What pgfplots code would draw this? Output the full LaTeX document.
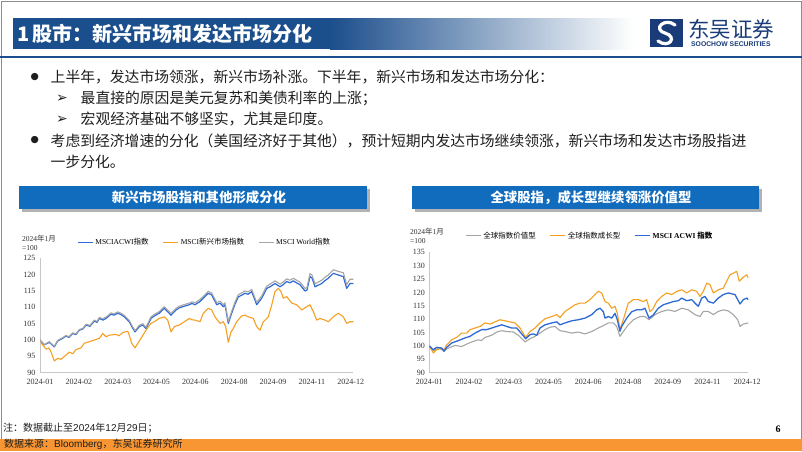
\documentclass[border=0pt]{standalone}
\usepackage{pgfplots}
\pgfplotsset{compat=1.18}
\usepackage{fontspec}
\setmainfont{Liberation Serif}
\newfontfamily\cjk{Noto Sans CJK SC}
\newfontfamily\dejavu{DejaVu Sans}
\newfontfamily\arial{Liberation Sans}
\definecolor{hdrblue}{RGB}{27,78,140}
\definecolor{boxblue}{RGB}{18,108,190}
\definecolor{lnblue}{RGB}{45,105,215}
\definecolor{lnorange}{RGB}{245,160,35}
\definecolor{lngray}{RGB}{165,165,165}
\definecolor{ftorange}{RGB}{247,150,50}
\definecolor{navy}{RGB}{25,60,120}
\definecolor{txt}{RGB}{30,30,30}
\pgfplotsset{
 slidechart/.style={
  scale only axis, anchor=south west,
  axis x line*=bottom, axis y line*=left,
  axis line style={draw=black!22, line width=0.6pt},
  major tick length=0pt,
  tick label style={font=\fontsize{8}{9}\selectfont, text=black!80},
  x tick label style={yshift=-2.5pt},
  y tick label style={xshift=-1pt},
  /pgf/number format/assume math mode=true,
  ytick distance=5,
  legend style={draw=none, fill=none, legend columns=3, font=\fontsize{7.5}{8}\selectfont, anchor=west, inner sep=0pt, /tikz/every even column/.append style={column sep=12pt}},
  legend image code/.code={\draw[##1] (0pt,0pt) -- (15pt,0pt);},
  every axis plot/.append style={line join=round, mark=none},
 }
}
\begin{document}
\begin{tikzpicture}
\begin{scope}[x=1pt,y=-1pt]
\useasboundingbox (0,0) rectangle (802,451);
\fill[white] (0,0) rectangle (802,451);
\draw[black!45, line width=0.8pt] (1,1) rectangle (801,450);
% header
\fill[hdrblue] (13,18.3) rectangle (330,49.3);
\shade[left color=hdrblue, right color=white] (330,18.3) rectangle (634,49.3);
\node[anchor=west, text=white, inner sep=0pt] at (17,33.8) {\fontsize{20}{22}\selectfont\cjk\bfseries 1\,股市：新兴市场和发达市场分化};
\fill[hdrblue] (0,55.6) rectangle (802,57.8);
% logo
\fill[navy] (650,19) rectangle (683,47);
\draw[white, line width=3.2pt, line cap=round] (675,25) .. controls (665,17) and (652,29) .. (665,33) .. controls (678,37) and (669,49) .. (658,41);
\node[anchor=west, inner sep=0pt, text=navy] at (688,29.5) {\fontsize{21.5}{22}\selectfont\cjk 东吴证券};
\node[anchor=west, inner sep=0pt, text=navy] at (691,44.5) {\fontsize{6.8}{7}\selectfont\arial\bfseries SOOCHOW SECURITIES};
% bullets
\begin{scope}[every node/.style={anchor=west, inner sep=0pt, text=txt}]
\node at (30.5,77.5) {\fontsize{9.5}{9.5}\selectfont\dejavu ●};
\node at (50.5,77.5) {\fontsize{14.8}{16}\selectfont\cjk 上半年，发达市场领涨，新兴市场补涨。下半年，新兴市场和发达市场分化：};
\node at (56,98.5) {\fontsize{14}{14}\selectfont\dejavu ➢};
\node at (80.5,98.5) {\fontsize{14.8}{16}\selectfont\cjk 最直接的原因是美元复苏和美债利率的上涨；};
\node at (56,119.5) {\fontsize{14}{14}\selectfont\dejavu ➢};
\node at (80.5,119.5) {\fontsize{14.8}{16}\selectfont\cjk 宏观经济基础不够坚实，尤其是印度。};
\node at (30.5,140.5) {\fontsize{9.5}{9.5}\selectfont\dejavu ●};
\node at (50.5,140.5) {\fontsize{14.8}{16}\selectfont\cjk 考虑到经济增速的分化（美国经济好于其他），预计短期内发达市场继续领涨，新兴市场和发达市场股指进};
\node at (50.5,162) {\fontsize{14.8}{16}\selectfont\cjk 一步分化。};
\end{scope}
% chart title boxes
\fill[black!30] (21.5,188.5) rectangle (369.5,211.5);
\fill[boxblue] (19,186) rectangle (367,209);
\node[text=white, inner sep=0pt] at (199,197.5) {\fontsize{13.4}{14}\selectfont\cjk\bfseries 新兴市场股指和其他形成分化};
\fill[black!30] (414.5,188.5) rectangle (761.5,211.5);
\fill[boxblue] (412,186) rectangle (759,209);
\node[text=white, inner sep=0pt] at (591,197.5) {\fontsize{13.4}{14}\selectfont\cjk\bfseries 全球股指，成长型继续领涨价值型};
% y unit labels
\begin{scope}[every node/.style={anchor=west, inner sep=0pt, text=black!80, font=\fontsize{7.5}{8}\selectfont}]
\node at (22,239) {2024{\cjk 年}1{\cjk 月}};
\node at (22,247.7) {=100};
\node at (410,232) {2024{\cjk 年}1{\cjk 月}};
\node at (410,241) {=100};
\end{scope}
% footer
\node[anchor=west, inner sep=0pt, text=txt] at (3,428.5) {\fontsize{10}{11}\selectfont\cjk 注：数据截止至{\arial 2024}年{\arial 12}月{\arial 29}日；};
\node[anchor=center, inner sep=0pt, text=black] at (778,429.5) {\fontsize{10}{11}\selectfont\bfseries 6};
\fill[ftorange] (0,438.5) rectangle (802,451);
\node[anchor=west, inner sep=0pt, text=txt] at (4,444.5) {\fontsize{10}{11}\selectfont\cjk 数据来源：{\arial Bloomberg}，东吴证券研究所};
\end{scope}

% ---------- left chart ----------
\begin{axis}[slidechart,
  at={(40pt,-372.7pt)}, width=313.3pt, height=114.4pt,
  xmin=0, xmax=313.3, ymin=90, ymax=125,
  xtick={0,38.84,77.68,116.51,155.35,194.19,233.03,271.87,310.7},
  xticklabels={2024-01,2024-02,2024-03,2024-05,2024-06,2024-08,2024-09,2024-11,2024-12},
  legend style={at={(0.118,1.14)}},
]
\addplot[lnblue, line width=1.2pt] coordinates {
(0,100.0)(4.3,98.5)(9.3,99.3)(14.3,97.9)(17.7,99.7)(22,100.4)(26,101.2)(29,100.8)(32.7,102.0)(36,101.7)(39.3,103.0)(43,103.4)(46,104.6)(50,104.2)(54.3,105.8)(57,105.4)(59.3,106.6)(63,106.1)(66,106.6)(71,107.9)(74,107.6)(77.7,108.2)(81,107.8)(84.3,107.1)(89.3,105.6)(92,104.0)(95,102.5)(99.3,104.1)(102.7,104.6)(106,103.5)(111,106.6)(115,107.5)(119.3,108.2)(124.3,109.7)(131,107.6)(136,109.2)(139,109.8)(142.7,110.2)(146,110.5)(149.3,110.8)(152,111.2)(155,110.8)(160,111.8)(164,113.0)(168.3,114.3)(171.7,113.8)(176.7,110.8)(180,111.3)(183.3,110.2)(185,110.8)(188.3,105.1)(191.7,108.2)(195,111.0)(198.3,113.2)(201,113.6)(205,114.3)(208,114.0)(211.7,114.8)(216.7,110.8)(221.7,112.8)(226.7,115.8)(230,116.3)(235,117.3)(240,116.3)(243,116.9)(246.7,117.9)(250,117.5)(253.3,118.1)(256,117.6)(260,116.9)(265,115.0)(267,115.3)(270,119.4)(272,119.0)(275,116.3)(281.7,117.3)(285,118.2)(288.3,118.9)(293.3,120.4)(298.3,119.9)(303.3,119.4)(306.7,115.8)(310,117.3)(313.3,117.3)
};
\addlegendentry{MSCIACWI{\cjk 指数}}
\addplot[lnorange, line width=1.1pt] coordinates {
(0,100.0)(1.5,99.0)(6,97.2)(9,97.6)(11,96.4)(14.3,93.6)(17.7,94.4)(21,94.1)(26,95.4)(29.3,96.3)(32.7,95.8)(36,97.1)(41,97.6)(44.3,99.0)(49.3,99.5)(54.3,100.0)(59.3,100.5)(62.7,102.0)(66,101.0)(69.3,101.5)(76,101.7)(79,101.3)(82.7,102.3)(87.7,102.7)(89.3,101.5)(91.7,99.0)(95,97.6)(99.3,99.7)(106,103.0)(111,105.1)(114.3,105.6)(119.3,106.6)(124.3,107.1)(127.7,106.1)(131,102.5)(134.3,104.1)(139.3,104.6)(144.3,105.6)(149.3,106.6)(152,106.2)(155,106.1)(160,105.6)(163.3,108.2)(168.3,109.7)(171.7,109.2)(175,107.1)(180,105.1)(183.3,105.6)(185.7,104.1)(188.3,99.3)(191,102.5)(193.3,103.5)(196.7,105.6)(201.7,107.4)(205,107.6)(208.3,107.1)(213.3,106.6)(216.7,104.1)(220,103.0)(223.3,105.6)(228.3,107.1)(231.7,110.7)(235,114.8)(238.3,115.8)(241,114.8)(243.3,112.8)(246.7,113.3)(251.7,111.3)(256.7,110.8)(261.7,109.2)(266.7,110.2)(270,110.8)(273.3,108.7)(276.7,106.1)(280,106.6)(285,106.1)(288.3,105.6)(293.3,107.1)(298.3,108.2)(303.3,107.1)(306.7,105.1)(310,105.6)(313.3,105.6)
};
\addlegendentry{MSCI{\cjk 新兴市场指数}}
\addplot[lngray, line width=1.1pt] coordinates {
(0,100.0)(4.3,98.6)(9.3,99.5)(14.3,98.1)(17.7,99.9)(22,100.6)(26,101.4)(29,101.0)(32.7,102.2)(36,101.9)(39.3,103.2)(43,103.6)(46,104.8)(50,104.5)(54.3,106.1)(57,105.7)(59.3,106.9)(63,106.5)(66,107.0)(71,108.3)(74,108.0)(77.7,108.6)(81,108.2)(84.3,107.5)(89.3,106.0)(92,104.4)(95,102.9)(99.3,104.5)(102.7,105.0)(106,103.9)(111,107.1)(115,108.0)(119.3,108.7)(124.3,110.2)(131,108.1)(136,109.7)(139,110.3)(142.7,110.7)(146,111.0)(149.3,111.3)(152,111.7)(155,111.4)(160,112.4)(164,113.6)(168.3,114.9)(171.7,114.4)(176.7,111.4)(180,111.9)(183.3,110.8)(185,111.4)(188.3,105.7)(191.7,108.8)(195,111.6)(198.3,113.9)(201,114.3)(205,115.0)(208,114.7)(211.7,115.5)(216.7,111.5)(221.7,113.5)(226.7,116.5)(230,117.1)(235,118.1)(240,117.1)(243,117.7)(246.7,118.7)(250,118.3)(253.3,118.9)(256,118.4)(260,117.7)(265,115.8)(267,116.1)(270,120.3)(272,119.9)(275,117.2)(281.7,118.3)(285,119.2)(288.3,119.9)(293.3,121.5)(298.3,121.0)(303.3,120.6)(306.7,117.0)(310,118.6)(313.3,118.6)
};
\addlegendentry{MSCI World{\cjk 指数}}
\end{axis}

% ---------- right chart ----------
\begin{axis}[slidechart,
  at={(429.3pt,-372.7pt)}, width=319pt, height=120.4pt,
  xmin=0, xmax=319, ymin=90, ymax=135,
  xtick={0,39.75,79.5,119.25,159,198.75,238.5,278.25,318},
  xticklabels={2024-01,2024-02,2024-03,2024-05,2024-06,2024-08,2024-09,2024-11,2024-12},
  legend style={at={(0.112,1.138)}},
]
\addplot[lngray, line width=1.1pt] coordinates {
(0,100.0)(4,98.2)(9,99.2)(14.7,98.2)(19,99.2)(25.7,100.2)(32.4,99.8)(37.4,100.7)(42.4,101.5)(49,102.3)(52,102.0)(55.7,103.2)(62.4,104.0)(67.4,105.2)(72.4,105.7)(77.4,105.4)(84,105.2)(89,104.0)(95.7,101.5)(100.7,102.7)(105.7,103.6)(110.7,104.8)(115.7,106.1)(120.7,107.0)(125.7,107.3)(130.7,105.7)(135.7,105.4)(142.4,104.8)(149,105.2)(155.7,104.5)(162.4,105.4)(169,106.7)(174,107.6)(179,108.6)(184,108.6)(187.4,107.3)(190.7,103.6)(194,105.4)(199,107.9)(204,109.8)(210.7,111.0)(215.7,111.0)(219.7,109.8)(225.7,111.7)(232.4,112.9)(239,113.5)(245.7,112.9)(252.4,114.1)(259,113.5)(265.7,111.7)(270.7,111.0)(274,112.9)(279,112.9)(284,111.7)(289,112.9)(294,113.5)(299,113.1)(304,111.7)(308.4,109.8)(310.7,107.3)(314,108.2)(319,108.6)
};
\addlegendentry{\cjk 全球指数价值型}
\addplot[lnorange, line width=1.1pt] coordinates {
(0,100.0)(4,97.4)(7.4,98.6)(12.4,99.2)(14.7,98.6)(17.4,100.4)(22.4,102.3)(27.4,103.2)(32.4,104.8)(37.4,104.8)(40.7,106.1)(45.7,106.7)(50.7,107.3)(55.7,108.6)(60.7,108.2)(65.7,109.0)(70.7,109.8)(75.7,109.4)(80.7,109.0)(85.7,108.6)(90.7,106.7)(96.4,103.2)(100.7,105.4)(105.7,106.7)(110.7,108.6)(115.7,110.2)(122.4,111.0)(127.4,111.7)(130.7,110.6)(135.7,112.9)(140.7,114.1)(145.7,115.4)(150.7,116.0)(155.7,116.0)(160.7,117.3)(165.7,119.2)(169,120.4)(172.4,119.8)(175.7,116.6)(179,116.0)(182.4,114.1)(185.7,114.8)(188,112.2)(190.7,106.1)(194,109.8)(199,116.0)(204,117.3)(209,117.3)(214,116.6)(217.4,117.3)(220.7,112.8)(224,114.1)(227.4,116.6)(232.4,118.5)(237.4,119.8)(242.4,119.2)(247.4,120.4)(252.4,121.0)(257.4,119.8)(262.4,121.0)(267.4,120.4)(270.7,118.5)(274,120.4)(277.4,123.5)(280.7,122.9)(284,119.8)(289,121.0)(294,121.6)(297.4,124.2)(300.7,126.6)(304,127.2)(307.4,127.9)(310,124.2)(314,125.7)(317.4,126.6)(319,125.4)
};
\addlegendentry{\cjk 全球指数成长型}
\addplot[lnblue, line width=1.3pt] coordinates {
(0,100.0)(4,98.6)(7.4,99.5)(12.4,99.2)(14.7,98.0)(17.4,99.5)(22.4,101.1)(29,102.0)(35.7,103.0)(40.7,103.6)(45.7,104.8)(52.4,106.1)(57.4,106.1)(62.4,106.7)(67.4,107.3)(72.4,107.9)(77.4,107.3)(82.4,106.7)(87.4,106.7)(92.4,104.5)(96.4,102.7)(100.7,104.2)(104,104.5)(107.4,104.0)(110.7,106.7)(115.7,107.9)(122.4,108.6)(127.4,109.0)(130.7,107.9)(135.7,108.6)(142.4,109.4)(149,109.8)(155.7,110.4)(162.4,111.7)(167.4,113.5)(170.7,114.1)(174,112.8)(175.7,110.4)(179,111.0)(182.4,110.4)(185.7,112.2)(188,109.8)(190.7,105.5)(192.4,107.3)(197.4,110.4)(202.4,112.8)(207.4,113.5)(212.4,113.5)(215.7,114.1)(219.7,110.4)(224,111.6)(229,114.1)(234,115.4)(239,116.0)(244,116.6)(249,116.9)(252.4,117.9)(257.4,116.9)(262.4,117.3)(265.7,116.0)(269,114.8)(272.4,117.9)(275.7,118.5)(279,116.6)(284,116.0)(289,117.9)(294,119.2)(299,119.8)(305.7,119.2)(310.7,115.7)(314,117.3)(317.4,117.9)(319,117.3)
};
\addlegendentry{\bfseries MSCI ACWI {\cjk 指数}}
\end{axis}
\end{tikzpicture}
\end{document}
